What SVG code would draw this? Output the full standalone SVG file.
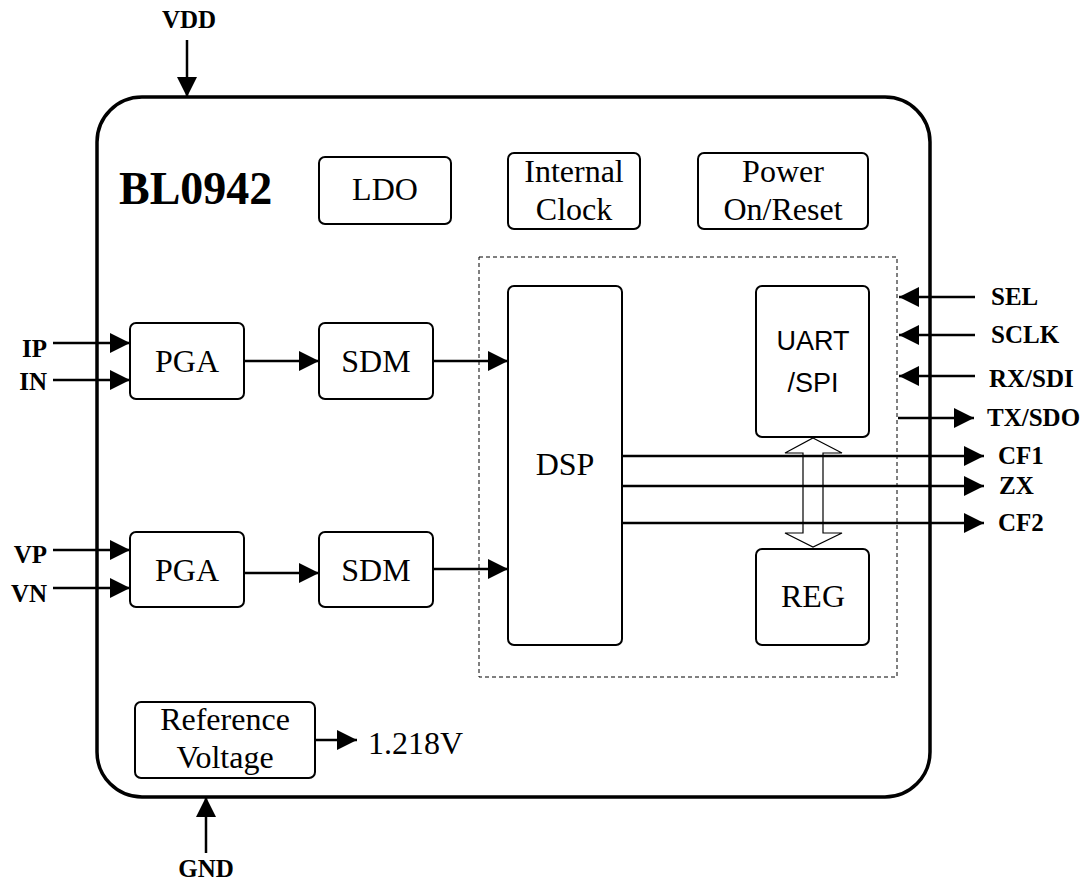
<svg xmlns="http://www.w3.org/2000/svg" width="1088" height="887" viewBox="0 0 1088 887">
<style>
.box{fill:#fff;stroke:#000;stroke-width:2}
.t{font-family:"Liberation Serif","Times New Roman",serif;font-size:32px;fill:#000;text-anchor:middle}
.s{font-family:"Liberation Sans",Arial,sans-serif;font-size:27px;fill:#000;text-anchor:middle}
.pin{font-family:"Liberation Serif","Times New Roman",serif;font-size:25px;font-weight:bold;fill:#000}
.w{stroke:#000;stroke-width:2.5;fill:none;marker-end:url(#ah)}
</style>
<defs>
<marker id="ah" markerUnits="userSpaceOnUse" markerWidth="20" markerHeight="20" refX="20" refY="10" orient="auto" viewBox="0 0 20 20">
<path d="M0,0 L20,10 L0,20 z" fill="#000"/>
</marker>
</defs>
<rect width="1088" height="887" fill="#fff"/>
<g id="chip">
<rect x="97" y="97" width="833" height="700" rx="45" ry="45" fill="none" stroke="#000" stroke-width="3.5"/>
<text x="119" y="204" font-family="'Liberation Serif','Times New Roman',serif" font-size="46" font-weight="bold">BL0942</text>
</g>
<g id="dsp-region">
<rect x="479" y="257" width="418" height="420" fill="none" stroke="#000" stroke-width="1" stroke-dasharray="4,3"/>
</g>
<g id="ldo"><rect class="box" x="319" y="157" width="132" height="67" rx="6"/><text class="t" x="385" y="200">LDO</text></g>
<g id="clock"><rect class="box" x="508" y="153" width="132" height="76" rx="6"/><text class="t" x="574" y="182">Internal</text><text class="t" x="574" y="220">Clock</text></g>
<g id="por"><rect class="box" x="698" y="153" width="170" height="76" rx="6"/><text class="t" x="783" y="182">Power</text><text class="t" x="783" y="220">On/Reset</text></g>
<g id="pga1"><rect class="box" x="130" y="323" width="114" height="76" rx="6"/><text class="t" x="187" y="372">PGA</text></g>
<g id="sdm1"><rect class="box" x="319" y="323" width="114" height="76" rx="6"/><text class="t" x="376" y="372">SDM</text></g>
<g id="pga2"><rect class="box" x="130" y="532" width="114" height="75" rx="6"/><text class="t" x="187" y="581">PGA</text></g>
<g id="sdm2"><rect class="box" x="319" y="532" width="114" height="75" rx="6"/><text class="t" x="376" y="581">SDM</text></g>
<g id="dsp"><rect class="box" x="508" y="286" width="114" height="359" rx="6"/><text class="t" x="565" y="475">DSP</text></g>
<g id="uart"><rect class="box" x="756" y="286" width="113" height="151" rx="6"/><text class="s" x="813" y="350">UART</text><text class="s" x="813" y="392">/SPI</text></g>
<g id="reg"><rect class="box" x="756" y="549" width="113" height="96" rx="6"/><text class="t" x="813" y="607">REG</text></g>
<g id="ref"><rect class="box" x="135" y="702" width="180" height="76" rx="6"/><text class="t" x="225" y="730">Reference</text><text class="t" x="225" y="768">Voltage</text></g>
<g id="connectors">
<polygon points="813,438 842,453 823,453 823,533 842,533 813,547 785,533 803,533 803,453 785,453" fill="#fff" stroke="#000" stroke-width="1.2"/>
<line class="w" x1="187" y1="40" x2="187" y2="97"/>
<line class="w" x1="206" y1="853" x2="206" y2="797"/>
<line class="w" x1="53" y1="343" x2="130" y2="343"/>
<line class="w" x1="53" y1="380" x2="130" y2="380"/>
<line class="w" x1="53" y1="550" x2="130" y2="550"/>
<line class="w" x1="53" y1="588" x2="130" y2="588"/>
<line class="w" x1="244" y1="361" x2="319" y2="361"/>
<line class="w" x1="433" y1="361" x2="508" y2="361"/>
<line class="w" x1="244" y1="573" x2="319" y2="573"/>
<line class="w" x1="433" y1="569" x2="508" y2="569"/>
<line class="w" x1="975" y1="297" x2="899" y2="297"/>
<line class="w" x1="975" y1="335" x2="899" y2="335"/>
<line class="w" x1="975" y1="376" x2="899" y2="376"/>
<line class="w" x1="898" y1="418" x2="974" y2="418"/>
<line class="w" x1="622" y1="456" x2="984" y2="456"/>
<line class="w" x1="622" y1="486" x2="984" y2="486"/>
<line class="w" x1="622" y1="523" x2="984" y2="523"/>
<line class="w" x1="315" y1="740" x2="357" y2="740"/>
</g>
<g id="labels">
<text class="pin" x="189" y="28" text-anchor="middle">VDD</text>
<text class="pin" x="206" y="877" text-anchor="middle">GND</text>
<text class="pin" x="47" y="357" text-anchor="end">IP</text>
<text class="pin" x="47" y="390" text-anchor="end">IN</text>
<text class="pin" x="47" y="563" text-anchor="end">VP</text>
<text class="pin" x="47" y="602" text-anchor="end">VN</text>
<text class="pin" x="991" y="305">SEL</text>
<text class="pin" x="991" y="343">SCLK</text>
<text class="pin" x="989" y="387">RX/SDI</text>
<text class="pin" x="987" y="426">TX/SDO</text>
<text class="pin" x="998" y="464">CF1</text>
<text class="pin" x="999" y="494">ZX</text>
<text class="pin" x="998" y="531">CF2</text>
<text x="368" y="754" style="font-family:'Liberation Serif','Times New Roman',serif;font-size:32px;fill:#000;text-anchor:start">1.218V</text>
</g>
</svg>
